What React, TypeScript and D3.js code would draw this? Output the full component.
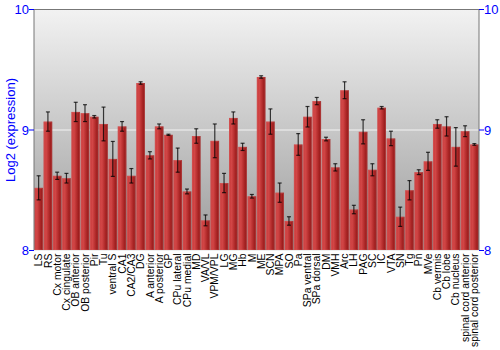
import React from "react";
import * as d3 from "d3";

const categories = ["LS","RS","Cx motor","Cx cingulate","OB anterior","OB posterior","Pir","Tu","ventral S","CA1","CA2/CA3","DG","A anterior","A posterior","GP","CPu lateral","CPu medial","MD","VA/VL","VPM/VPL","LG","MG","Hb","M","ME","SCN","MPA","SO","Pa","SPa ventral","SPa dorsal","DM","VMH","Arc","LH","PAG","SC","IC","VTA","SN","Tg","Pn","MVe","Cb vermis","Cb lobe","Cb nucleus","spinal cord anterior","spinal cord posterior"];
const values = [8.52,9.07,8.62,8.60,9.15,9.14,9.11,9.05,8.76,9.03,8.62,9.39,8.79,9.03,8.96,8.75,8.49,8.95,8.25,8.91,8.56,9.10,8.86,8.45,9.44,9.07,8.48,8.245,8.88,9.11,9.24,8.925,8.69,9.33,8.34,8.985,8.67,9.185,8.93,8.28,8.50,8.65,8.74,9.05,9.03,8.86,8.99,8.88];
const errors = [0.10,0.08,0.03,0.04,0.08,0.07,0.01,0.14,0.145,0.04,0.06,0.01,0.03,0.02,0.005,0.10,0.02,0.06,0.045,0.14,0.08,0.05,0.03,0.015,0.01,0.105,0.08,0.035,0.09,0.085,0.03,0.015,0.03,0.07,0.035,0.10,0.05,0.01,0.06,0.08,0.08,0.02,0.075,0.035,0.08,0.16,0.045,0.007];
const yTicks = [8, 9, 10];

export default function App() {
  const W = 500, H = 350;
  const left = 34, right = 479, top = 9.5, bottom = 250.5;
  const x = d3.scaleBand<string>().domain(categories).range([left, right]).paddingInner(0.07).paddingOuter(0.035);
  const y = d3.scaleLinear().domain([8, 10]).range([bottom, top]);
  const font = "'Liberation Sans', Arial, sans-serif";
  const capW = 4;
  return (
    <svg width={W} height={H} style={{ position: "absolute", left: 0, top: 0, background: "#fff" }}>
      <defs>
        <linearGradient id="bg" x1="0" y1="0" x2="0" y2="1">
          <stop offset="0" stopColor="#f2f2f2" />
          <stop offset="1" stopColor="#9c9c9c" />
        </linearGradient>
        <linearGradient id="bar" x1="0" y1="0" x2="1" y2="0">
          <stop offset="0" stopColor="#c83a3a" />
          <stop offset="0.3" stopColor="#d24646" />
          <stop offset="0.7" stopColor="#ac2626" />
          <stop offset="1" stopColor="#8a1515" />
        </linearGradient>
      </defs>
      <rect x={left} y={top} width={right - left} height={bottom - top} fill="url(#bg)" />
      <line x1={left} x2={right} y1={y(9)} y2={y(9)} stroke="#ffffff" strokeOpacity={0.8} strokeWidth={1} />
      {categories.map((c, i) => {
        const bx = x(c)!;
        const bw = x.bandwidth();
        const by = y(values[i]);
        const cx = bx + bw / 2;
        const e1 = y(values[i] + errors[i]);
        const e2 = y(values[i] - errors[i]);
        return (
          <g key={c}>
            <rect x={bx} y={by} width={bw} height={bottom - by} fill="url(#bar)" />
            <rect x={bx + 0.5} y={by + 0.5} width={bw - 1} height={bottom - by - 1} fill="none" stroke="#e07070" strokeOpacity={0.35} />
            <g stroke="#000" strokeOpacity={0.75} strokeWidth={1.2}>
              <line x1={cx} x2={cx} y1={e1} y2={e2} />
              <line x1={cx - capW / 2} x2={cx + capW / 2} y1={e1} y2={e1} />
              <line x1={cx - capW / 2} x2={cx + capW / 2} y1={e2} y2={e2} />
            </g>
          </g>
        );
      })}
      <line x1={left} x2={right} y1={top} y2={top} stroke="#777" strokeWidth={1} />
      <line x1={left} x2={left} y1={top} y2={bottom} stroke="#777" strokeWidth={1} />
      <line x1={right} x2={right} y1={top} y2={bottom} stroke="#777" strokeWidth={1} />
      <line x1={left} x2={right} y1={bottom} y2={bottom} stroke="#eee" strokeWidth={1} />
      {yTicks.map((t) => (
        <g key={t}>
          <line x1={left - 5} x2={left} y1={y(t)} y2={y(t)} stroke="#00f" />
          <line x1={right} x2={right + 5} y1={y(t)} y2={y(t)} stroke="#00f" />
          <text x={left - 5} y={y(t)} dy="0.35em" textAnchor="end" fill="#0000ff" fontFamily={font} fontSize={13}>{t}</text>
          <text x={right + 5} y={y(t)} dy="0.35em" textAnchor="start" fill="#0000ff" fontFamily={font} fontSize={13}>{t}</text>
        </g>
      ))}
      <text transform={`translate(10,${(top + bottom) / 2}) rotate(-90)`} textAnchor="middle" dy="0.35em" fill="#0000ff" fontFamily={font} fontSize={13}>Log2 (expression)</text>
      {categories.map((c) => (
        <text key={c} transform={`translate(${x(c)! + x.bandwidth() / 2},${bottom + 3}) rotate(-90)`} textAnchor="end" dy="0.35em" fill="#000" fontFamily={font} fontSize={10.4}>{c}</text>
      ))}
    </svg>
  );
}
